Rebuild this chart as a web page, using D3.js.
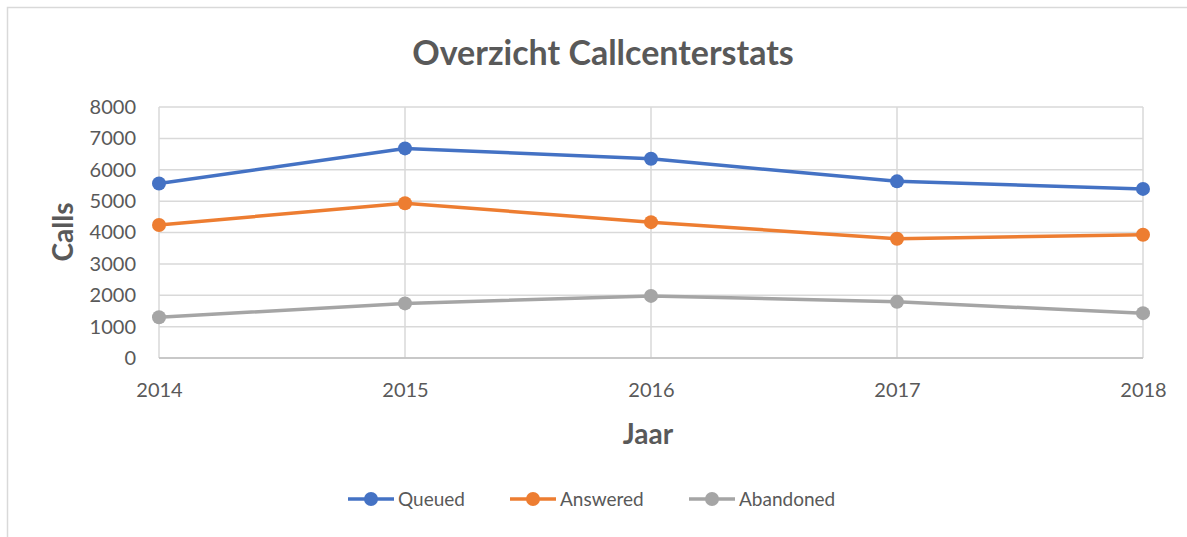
<!DOCTYPE html>
<html>
<head>
<meta charset="utf-8">
<script src="https://cdn.jsdelivr.net/npm/d3@7"></script>
<style>
  body { margin: 0; background: #fff; }
  svg { display: block; font-family: Lato, "Open Sans", sans-serif; }
</style>
</head>
<body>
<svg></svg>
<script>
var width = 1187;
var height = 537;
var margin = ({top: 107, right: 44, bottom: 179, left: 159});
var font = "Lato, 'Open Sans', sans-serif";

// data
var years = ["2014", "2015", "2016", "2017", "2018"];
var queued = [5560, 6680, 6350, 5630, 5390];
var answered = [4240, 4930, 4330, 3800, 3930];
var abandoned = [1300, 1740, 1980, 1790, 1430];
var seriesNames = ["Queued", "Answered", "Abandoned"];
var yTicks = [0, 1000, 2000, 3000, 4000, 5000, 6000, 7000, 8000];

var colors = ["#4472c4", "#ed7d31", "#a5a5a5"];
var series = [queued, answered, abandoned];

var svg = d3.select("svg")
    .attr("width", width)
    .attr("height", height);

// chart border (runs off the right and bottom edges)
svg.append("rect")
    .attr("x", 7.5).attr("y", 7.5)
    .attr("width", width + 20).attr("height", height + 20)
    .attr("fill", "none")
    .attr("stroke", "#d9d9d9")
    .attr("stroke-width", 1.5);

var x = d3.scalePoint()
    .domain(years)
    .range([margin.left, width - margin.right]);

var y = d3.scaleLinear()
    .domain([0, 8000])
    .range([height - margin.bottom, margin.top]);

// horizontal gridlines
svg.append("g")
    .selectAll("line")
    .data(yTicks)
    .join("line")
    .attr("x1", margin.left).attr("x2", width - margin.right)
    .attr("y1", d => y(d)).attr("y2", d => y(d))
    .attr("stroke", "#d9d9d9")
    .attr("stroke-width", 1.5);

// vertical gridlines
svg.append("g")
    .selectAll("line")
    .data(years)
    .join("line")
    .attr("x1", d => x(d)).attr("x2", d => x(d))
    .attr("y1", y(0)).attr("y2", y(8000))
    .attr("stroke", "#d9d9d9")
    .attr("stroke-width", 1.5);

// bottom axis line
svg.append("line")
    .attr("x1", margin.left).attr("x2", width - margin.right)
    .attr("y1", y(0)).attr("y2", y(0))
    .attr("stroke", "#bfbfbf")
    .attr("stroke-width", 1.5);

// y tick labels
svg.append("g")
    .attr("transform", `translate(${margin.left},0)`)
    .call(d3.axisLeft(y).tickValues(yTicks).tickFormat(d3.format("d")).tickSize(0).tickPadding(23))
    .call(g => g.select(".domain").remove())
    .attr("font-family", font)
    .attr("font-size", 20)
    .call(g => g.selectAll("text").attr("fill", "#595959"));

// x tick labels
svg.append("g")
    .attr("transform", `translate(0,${y(0)})`)
    .call(d3.axisBottom(x).tickSize(0).tickPadding(25))
    .call(g => g.select(".domain").remove())
    .attr("font-family", font)
    .attr("font-size", 20)
    .call(g => g.selectAll("text").attr("fill", "#595959"));

// title
svg.append("text")
    .attr("x", 603).attr("y", 65)
    .attr("text-anchor", "middle")
    .attr("fill", "#595959")
    .attr("font-weight", "bold")
    .style("font-size", "34px")
    .text("Overzicht Callcenterstats");

// axis titles
svg.append("text")
    .attr("transform", "translate(73,232) rotate(-90)")
    .attr("text-anchor", "middle")
    .attr("fill", "#595959")
    .attr("font-weight", "bold")
    .style("font-size", "28px")
    .text("Calls");

svg.append("text")
    .attr("x", 648).attr("y", 444)
    .attr("text-anchor", "middle")
    .attr("fill", "#595959")
    .attr("font-weight", "bold")
    .style("font-size", "28px")
    .text("Jaar");

// lines and markers
var line = d3.line()
    .x((d, i) => x(years[i]))
    .y(d => y(d));

series.forEach(function (vals, k) {
    svg.append("path")
        .datum(vals)
        .attr("d", line)
        .attr("fill", "none")
        .attr("stroke", colors[k])
        .attr("stroke-width", 3.5)
        .attr("stroke-linejoin", "round")
        .attr("stroke-linecap", "round");

    svg.append("g")
        .selectAll("circle")
        .data(vals)
        .join("circle")
        .attr("cx", (d, i) => x(years[i]))
        .attr("cy", d => y(d))
        .attr("r", 7)
        .attr("fill", colors[k]);
});

// legend
var legendX = [348, 510, 689];
var legend = svg.append("g")
    .selectAll("g")
    .data(seriesNames)
    .join("g")
    .attr("transform", (d, i) => `translate(${legendX[i]},499)`);

legend.append("line")
    .attr("x1", 0).attr("x2", 46)
    .attr("stroke", (d, i) => colors[i])
    .attr("stroke-width", 3.5);

legend.append("circle")
    .attr("cx", 23)
    .attr("r", 7)
    .attr("fill", (d, i) => colors[i]);

legend.append("text")
    .attr("x", 50)
    .attr("dy", "0.35em")
    .attr("fill", "#595959")
    .style("font-size", "19px")
    .text(d => d);
</script>
</body>
</html>
